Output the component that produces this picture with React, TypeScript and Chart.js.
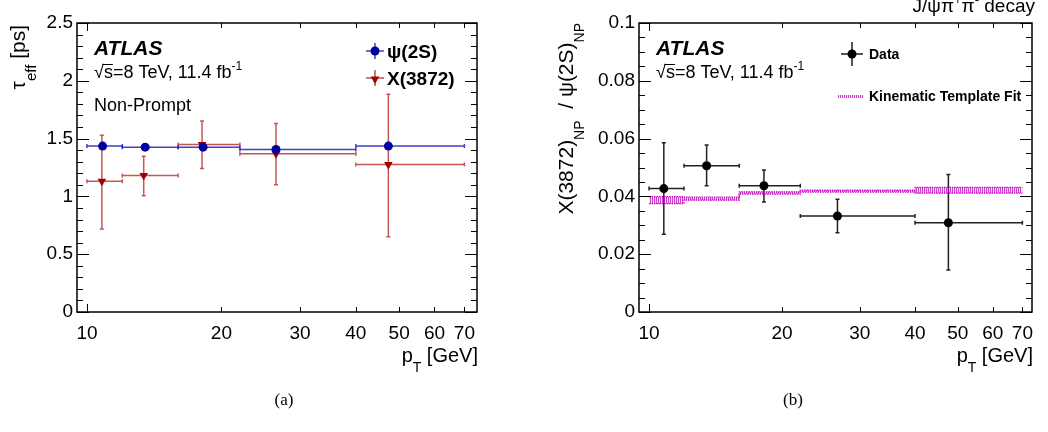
import React, { useEffect, useRef } from 'react';
import { Chart, registerables } from 'chart.js';

Chart.register(...registerables);

// ---------- data ----------
const binLo = [10, 12, 16, 22, 40];
const binHi = [12, 16, 22, 40, 70];
const xTickValues = [10, 20, 30, 40, 50, 60, 70];

// (a) effective lifetimes
const psiPt = [10.84, 13.5, 18.2, 26.5, 47.3];
const psiTau = [1.435, 1.426, 1.426, 1.406, 1.435];
const psiTauLo = [1.418, 1.414, 1.412, 1.392, 1.412];
const psiTauHi = [1.452, 1.438, 1.44, 1.42, 1.458];
const x3872Pt = [10.8, 13.4, 18.1, 26.5, 47.3];
const x3872Tau = [1.13, 1.18, 1.45, 1.37, 1.276];
const x3872TauLo = [0.717, 1.006, 1.241, 1.1, 0.652];
const x3872TauHi = [1.528, 1.348, 1.652, 1.63, 1.884];

// (b) non-prompt ratio
const ratioPt = [10.8, 13.5, 18.2, 26.7, 47.6];
const ratio = [0.0427, 0.0506, 0.0437, 0.0332, 0.0309];
const ratioLo = [0.0269, 0.0437, 0.0381, 0.0274, 0.0145];
const ratioHi = [0.0586, 0.0578, 0.0491, 0.039, 0.0476];
const fitEdges = [10, 12, 16, 22, 40, 70];
const fitLo = [0.0375, 0.0387, 0.0408, 0.0415, 0.0411];
const fitHi = [0.0399, 0.0398, 0.0416, 0.0422, 0.0431];

// ---------- helpers ----------
const SANS = '"Liberation Sans", Arial, Helvetica, sans-serif';
const SERIF = '"Liberation Serif", "Times New Roman", serif';
const MAGENTA = 'rgb(190,0,190)';

type Part = { t: string; s?: 'sub' | 'sup' };
type RichOpts = { bold?: boolean; italic?: boolean; family?: string; align?: 'left' | 'right' | 'center'; color?: string; subScale?: number };

function fontFor(size: number, p: Part, o: RichOpts) {
  const sz = p.s ? Math.round(size * (o.subScale ?? 0.68)) : size;
  return `${o.italic ? 'italic ' : ''}${o.bold ? 'bold ' : ''}${sz}px ${o.family ?? SANS}`;
}

function drawRich(ctx: CanvasRenderingContext2D, parts: Part[], x: number, y: number, size: number, o: RichOpts = {}) {
  let w = 0;
  for (const p of parts) {
    ctx.font = fontFor(size, p, o);
    w += ctx.measureText(p.t).width;
  }
  let cx = o.align === 'right' ? x - w : o.align === 'center' ? x - w / 2 : x;
  ctx.fillStyle = o.color ?? '#000';
  ctx.textAlign = 'left';
  ctx.textBaseline = 'alphabetic';
  for (const p of parts) {
    ctx.font = fontFor(size, p, o);
    const dy = p.s === 'sub' ? size * 0.5 : p.s === 'sup' ? -size * 0.42 : 0;
    ctx.fillText(p.t, cx, y + dy);
    cx += ctx.measureText(p.t).width;
  }
}

function drawRotated(ctx: CanvasRenderingContext2D, parts: Part[], x: number, y: number, size: number, o: RichOpts = {}) {
  ctx.save();
  ctx.translate(x, y);
  ctx.rotate(-Math.PI / 2);
  drawRich(ctx, parts, 0, 0, size, { ...o, align: 'right' });
  ctx.restore();
}

function drawSqrtLine(ctx: CanvasRenderingContext2D, x: number, y: number, size: number) {
  // "√s=8 TeV, 11.4 fb^-1" with overline on s
  ctx.font = `${size}px ${SANS}`;
  const wr = ctx.measureText('√').width;
  const ws = ctx.measureText('s').width;
  drawRich(ctx, [{ t: '√s=8 TeV, 11.4 fb' }, { t: '-1', s: 'sup' }], x, y, size);
  ctx.save();
  ctx.strokeStyle = '#000';
  ctx.lineWidth = 1;
  ctx.beginPath();
  const ly = Math.round(y - size * 0.78) + 0.5;
  ctx.moveTo(x + wr * 0.85, ly);
  ctx.lineTo(x + wr + ws, ly);
  ctx.stroke();
  ctx.restore();
}

function triangleDown(ctx: CanvasRenderingContext2D, cx: number, cy: number, r: number) {
  ctx.beginPath();
  for (let k = 0; k < 3; k++) {
    const a = Math.PI + (k * 2 * Math.PI) / 3;
    const px = cx + Math.sin(a) * r;
    const py = cy - Math.cos(a) * r;
    if (k === 0) ctx.moveTo(px, py);
    else ctx.lineTo(px, py);
  }
  ctx.closePath();
  ctx.fill();
}

function legendCross(ctx: CanvasRenderingContext2D, cx: number, cy: number, hw: number, hh: number, color: string) {
  ctx.save();
  ctx.strokeStyle = color;
  ctx.lineWidth = 1.5;
  ctx.beginPath();
  ctx.moveTo(cx - hw, cy);
  ctx.lineTo(cx + hw, cy);
  ctx.moveTo(cx, cy - hh);
  ctx.lineTo(cx, cy + hh);
  ctx.stroke();
  ctx.restore();
}

const errorBarPlugin = {
  id: 'errbars',
  beforeDatasetsDraw(chart: any) {
    const ctx = chart.ctx as CanvasRenderingContext2D;
    const xs = chart.scales.x;
    const ys = chart.scales.y;
    chart.data.datasets.forEach((ds: any) => {
      if (!ds.errLo) return;
      ctx.save();
      ctx.strokeStyle = ds.errColor;
      ctx.lineWidth = ds.errWidth ?? 1.5;
      ds.data.forEach((p: any, i: number) => {
        const px = xs.getPixelForValue(p.x);
        const py = ys.getPixelForValue(p.y);
        const x0 = xs.getPixelForValue(ds.xLo[i]);
        const x1 = xs.getPixelForValue(ds.xHi[i]);
        const y0 = ys.getPixelForValue(ds.errLo[i]);
        const y1 = ys.getPixelForValue(ds.errHi[i]);
        const c = 2;
        ctx.beginPath();
        ctx.moveTo(x0, py);
        ctx.lineTo(x1, py);
        ctx.moveTo(px, y0);
        ctx.lineTo(px, y1);
        ctx.moveTo(x0, py - c);
        ctx.lineTo(x0, py + c);
        ctx.moveTo(x1, py - c);
        ctx.lineTo(x1, py + c);
        ctx.moveTo(px - c, y0);
        ctx.lineTo(px + c, y0);
        ctx.moveTo(px - c, y1);
        ctx.lineTo(px + c, y1);
        ctx.stroke();
      });
      ctx.restore();
    });
  },
};

function framePlugin(yMin: number, yMax: number, yMinor: number, majorEvery: number) {
  return {
    id: 'frame',
    afterDatasetsDraw(chart: any) {
      const ctx = chart.ctx as CanvasRenderingContext2D;
      const a = chart.chartArea;
      const xs = chart.scales.x;
      const ys = chart.scales.y;
      ctx.save();
      ctx.strokeStyle = '#000';
      ctx.lineWidth = 1;
      ctx.beginPath();
      const n = Math.round((yMax - yMin) / yMinor);
      for (let i = 0; i <= n; i++) {
        const v = yMin + i * yMinor;
        const py = Math.round(ys.getPixelForValue(v)) + 0.5;
        const L = i % majorEvery === 0 ? 12 : 6;
        ctx.moveTo(a.left, py);
        ctx.lineTo(a.left + L, py);
        ctx.moveTo(a.right, py);
        ctx.lineTo(a.right - L, py);
      }
      xTickValues.forEach((v) => {
        const px = Math.round(xs.getPixelForValue(v)) + 0.5;
        const L = v === 10 ? 8 : 5;
        ctx.moveTo(px, a.bottom);
        ctx.lineTo(px, a.bottom - L);
        ctx.moveTo(px, a.top);
        ctx.lineTo(px, a.top + L);
      });
      ctx.stroke();
      ctx.lineWidth = 1.5;
      ctx.strokeRect(a.left, a.top, a.right - a.left, a.bottom - a.top);
      ctx.restore();
    },
  };
}

function makeOptions(p: { xMin: number; xMax: number; yMax: number; yStep: number; yWidth: number; padRight: number; yDigits: number }) {
  return {
    animation: false,
    responsive: false,
    maintainAspectRatio: false,
    layout: { padding: { left: 0, top: 23, right: p.padRight, bottom: 0 } },
    plugins: { legend: { display: false }, tooltip: { enabled: false } },
    scales: {
      x: {
        type: 'logarithmic',
        min: p.xMin,
        max: p.xMax,
        grid: { display: false, drawTicks: false },
        border: { display: false },
        afterBuildTicks: (s: any) => {
          s.ticks = xTickValues.map((v) => ({ value: v }));
        },
        afterFit: (s: any) => {
          s.height = 120;
        },
        ticks: {
          autoSkip: false,
          maxRotation: 0,
          minRotation: 0,
          padding: 10,
          color: '#000',
          font: { family: SANS, size: 19 },
          callback: (v: any) => String(v),
        },
      },
      y: {
        type: 'linear',
        min: 0,
        max: p.yMax,
        grid: { display: false, drawTicks: false },
        border: { display: false },
        afterFit: (s: any) => {
          s.width = p.yWidth;
        },
        ticks: {
          stepSize: p.yStep,
          padding: 4,
          color: '#000',
          font: { family: SANS, size: 19 },
          callback: (v: any) => String(Number(Number(v).toFixed(p.yDigits))),
        },
      },
    },
  };
}

function makePattern(): CanvasPattern | string {
  const pc = document.createElement('canvas');
  pc.width = 2;
  pc.height = 2;
  const g = pc.getContext('2d');
  if (!g) return MAGENTA;
  g.fillStyle = 'rgba(190,0,190,0.75)';
  g.fillRect(0, 0, 1, 2);
  g.fillStyle = 'rgba(220,130,220,0.2)';
  g.fillRect(1, 0, 1, 2);
  const pat = g.createPattern(pc, 'repeat');
  return pat ?? MAGENTA;
}

export default function App() {
  const leftRef = useRef<HTMLCanvasElement>(null);
  const rightRef = useRef<HTMLCanvasElement>(null);

  useEffect(() => {
    const charts: Chart[] = [];
    const pattern = makePattern();

    // ----- left chart (a) -----
    if (leftRef.current) {
      const annotA = {
        id: 'annotA',
        afterDraw(chart: any) {
          const ctx = chart.ctx as CanvasRenderingContext2D;
          drawRich(ctx, [{ t: 'ATLAS' }], 94, 55, 21, { bold: true, italic: true });
          drawSqrtLine(ctx, 94, 78, 18);
          drawRich(ctx, [{ t: 'Non-Prompt' }], 94, 111, 18);
          // legend
          legendCross(ctx, 375, 51, 9, 8, 'rgba(30,30,190,0.85)');
          ctx.fillStyle = 'rgb(0,0,160)';
          ctx.beginPath();
          ctx.arc(375, 51, 4.5, 0, Math.PI * 2);
          ctx.fill();
          drawRich(ctx, [{ t: 'ψ(2S)' }], 387, 58, 19, { bold: true });
          legendCross(ctx, 375, 78, 9, 8, 'rgba(175,30,30,0.8)');
          ctx.fillStyle = 'rgb(160,0,0)';
          triangleDown(ctx, 375, 79, 5);
          drawRich(ctx, [{ t: 'X(3872)' }], 387, 85, 19, { bold: true });
          // axis titles
          drawRotated(ctx, [{ t: 'τ' }, { t: 'eff', s: 'sub' }, { t: ' [ps]' }], 25, 25, 21, { subScale: 0.72 });
          drawRich(ctx, [{ t: 'p' }, { t: 'T', s: 'sub' }, { t: ' [GeV]' }], 478, 362, 20, { align: 'right' });
          drawRich(ctx, [{ t: '(a)' }], 284, 405, 17, { align: 'center', family: SERIF });
        },
      };
      charts.push(
        new Chart(leftRef.current, {
          type: 'scatter',
          data: {
            datasets: [
              {
                label: 'ψ(2S)',
                data: psiPt.map((x, i) => ({ x, y: psiTau[i] })),
                xLo: binLo,
                xHi: binHi,
                errLo: psiTauLo,
                errHi: psiTauHi,
                errColor: 'rgba(30,30,190,0.85)',
                pointStyle: 'circle',
                pointRadius: 4.5,
                backgroundColor: 'rgb(0,0,160)',
                borderColor: 'rgb(0,0,160)',
                borderWidth: 0,
              } as any,
              {
                label: 'X(3872)',
                data: x3872Pt.map((x, i) => ({ x, y: x3872Tau[i] })),
                xLo: binLo,
                xHi: binHi,
                errLo: x3872TauLo,
                errHi: x3872TauHi,
                errColor: 'rgba(175,30,30,0.75)',
                pointStyle: 'triangle',
                rotation: 180,
                pointRadius: 5,
                backgroundColor: 'rgb(160,0,0)',
                borderColor: 'rgb(160,0,0)',
                borderWidth: 0,
              } as any,
            ],
          },
          options: makeOptions({ xMin: 9.5, xMax: 74.7, yMax: 2.5, yStep: 0.5, yWidth: 77, padRight: 47, yDigits: 2 }) as any,
          plugins: [errorBarPlugin, framePlugin(0, 2.5, 0.1, 5), annotA],
        })
      );
    }

    // ----- right chart (b) -----
    if (rightRef.current) {
      const annotB = {
        id: 'annotB',
        afterDraw(chart: any) {
          const ctx = chart.ctx as CanvasRenderingContext2D;
          drawRich(ctx, [{ t: 'ATLAS' }], 132, 55, 21, { bold: true, italic: true });
          drawSqrtLine(ctx, 132, 78, 18);
          // legend: Data
          legendCross(ctx, 328, 54, 11, 12, '#222');
          ctx.fillStyle = '#000';
          ctx.beginPath();
          ctx.arc(328, 54, 4.5, 0, Math.PI * 2);
          ctx.fill();
          drawRich(ctx, [{ t: 'Data' }], 345, 59, 14, { bold: true });
          // legend: template fit
          ctx.save();
          ctx.fillStyle = pattern as any;
          ctx.fillRect(314, 95, 25, 3);
          ctx.restore();
          drawRich(ctx, [{ t: 'Kinematic Template Fit' }], 345, 101, 14, { bold: true });
          // titles
          drawRich(ctx, [{ t: 'J/ψπ' }, { t: '+', s: 'sup' }, { t: 'π' }, { t: '-', s: 'sup' }, { t: ' decay' }], 511, 12, 19, { align: 'right' });
          drawRotated(ctx, [{ t: 'X(3872)' }, { t: 'NP', s: 'sub' }, { t: '  / ψ(2S)' }, { t: 'NP', s: 'sub' }], 49, 23, 21);
          drawRich(ctx, [{ t: 'p' }, { t: 'T', s: 'sub' }, { t: ' [GeV]' }], 509, 362, 20, { align: 'right' });
          drawRich(ctx, [{ t: '(b)' }], 269, 405, 17, { align: 'center', family: SERIF });
        },
      };
      const stepData = (vals: number[]) => fitEdges.map((x, i) => ({ x, y: vals[Math.min(i, vals.length - 1)] }));
      charts.push(
        new Chart(rightRef.current, {
          type: 'scatter',
          data: {
            datasets: [
              {
                type: 'line',
                label: 'fitLo',
                data: stepData(fitLo),
                stepped: 'before',
                showLine: true,
                pointRadius: 0,
                borderColor: MAGENTA,
                borderWidth: 1.2,
                borderDash: [1.5, 1],
                fill: false,
              } as any,
              {
                type: 'line',
                label: 'Kinematic Template Fit',
                data: stepData(fitHi),
                stepped: 'before',
                showLine: true,
                pointRadius: 0,
                borderColor: MAGENTA,
                borderWidth: 1.2,
                borderDash: [1.5, 1],
                backgroundColor: pattern,
                fill: '-1',
              } as any,
              {
                label: 'Data',
                data: ratioPt.map((x, i) => ({ x, y: ratio[i] })),
                xLo: binLo,
                xHi: binHi,
                errLo: ratioLo,
                errHi: ratioHi,
                errColor: '#222',
                pointStyle: 'circle',
                pointRadius: 4.5,
                backgroundColor: '#000',
                borderColor: '#000',
                borderWidth: 0,
              } as any,
            ],
          },
          options: makeOptions({ xMin: 9.49, xMax: 73.6, yMax: 0.1, yStep: 0.02, yWidth: 115, padRight: 16, yDigits: 3 }) as any,
          plugins: [errorBarPlugin, framePlugin(0, 0.1, 0.005, 4), annotB],
        })
      );
    }

    return () => {
      charts.forEach((c) => c.destroy());
    };
  }, []);

  return (
    <div style={{ position: 'absolute', left: 0, top: 0, width: 1048, height: 432, background: '#fff', overflow: 'hidden' }}>
      <canvas ref={leftRef} width={524} height={432} style={{ position: 'absolute', left: 0, top: 0, width: 524, height: 432 }} />
      <canvas ref={rightRef} width={524} height={432} style={{ position: 'absolute', left: 524, top: 0, width: 524, height: 432 }} />
    </div>
  );
}
